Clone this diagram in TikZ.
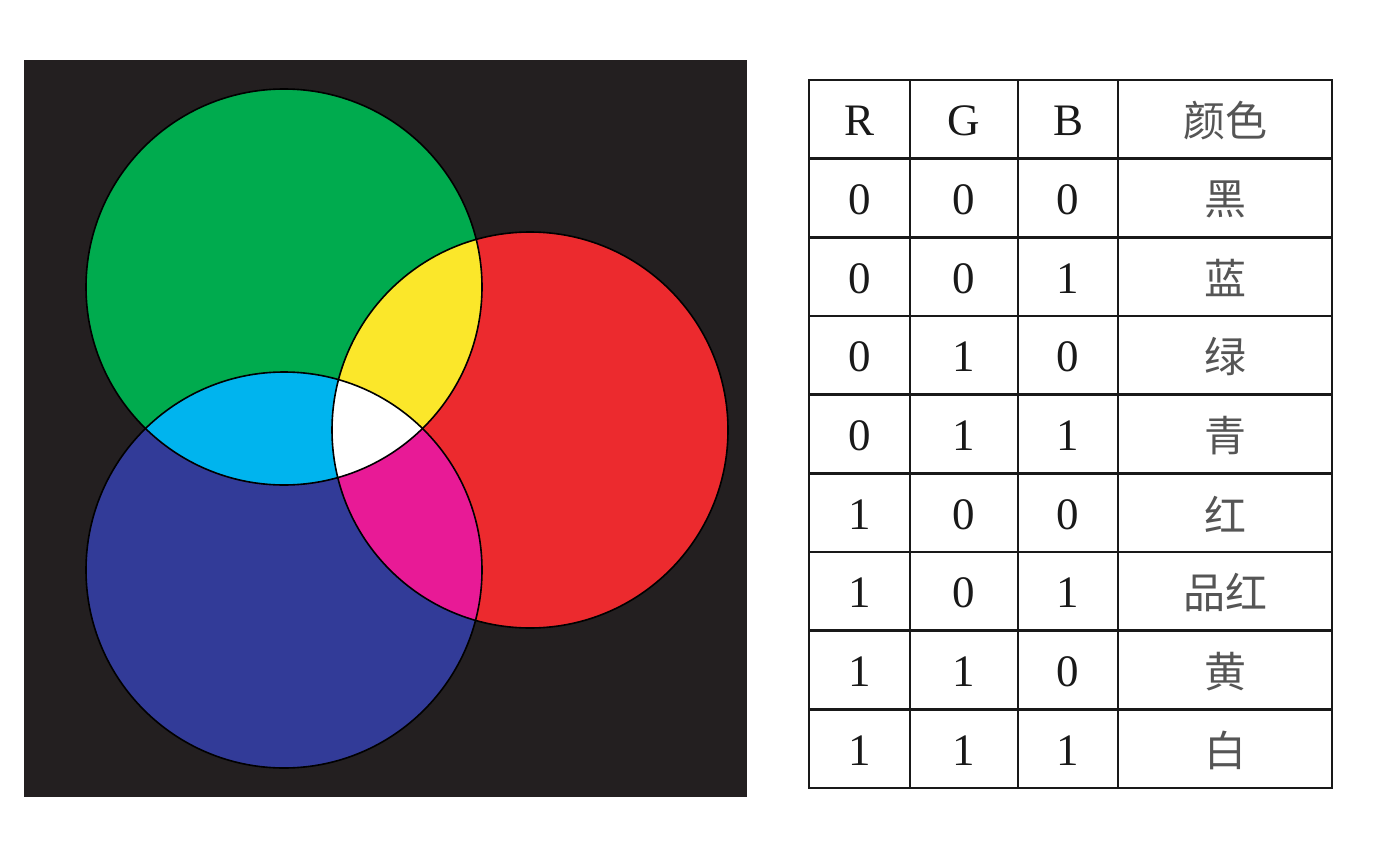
\documentclass[tikz,border=0pt]{standalone}
\usepackage{fontspec}
\setmainfont{Liberation Serif}
\newfontfamily\cjk{Noto Sans CJK SC}
\definecolor{bgblack}{HTML}{231F20}
\definecolor{cgreen}{HTML}{00AB4E}
\definecolor{cred}{HTML}{EC2A2E}
\definecolor{cblue}{HTML}{323B98}
\definecolor{cyellow}{HTML}{FBE72A}
\definecolor{ccyan}{HTML}{00B4EE}
\definecolor{cmag}{HTML}{E81A96}
\definecolor{cjkgray}{HTML}{555555}
\tikzset{
  cell/.style={font=\fontsize{45}{45}\selectfont, text=black!90, inner sep=0pt, anchor=center},
  hcell/.style={cell},
  ccell/.style={font=\fontsize{42}{42}\selectfont\cjk, text=cjkgray, inner sep=0pt, anchor=center},
  grid/.style={line width=2.8pt, draw=black!90, line cap=rect},
  rim/.style={draw=black, line width=1.6pt}
}
\begin{document}
\begin{tikzpicture}[x=1pt,y=-1pt]
\useasboundingbox (0,0) rectangle (1384,864);
\fill[white] (0,0) rectangle (1384,864);
% black panel
\fill[bgblack] (24,60) rectangle (747,797);
\coordinate (G) at (284,287);
\coordinate (B) at (284,570);
\coordinate (R) at (530,430);
% base circles
\fill[cgreen] (G) circle[radius=198pt];
\fill[cblue] (B) circle[radius=198pt];
\fill[cred] (R) circle[radius=198pt];
% overlaps
\begin{scope}
  \clip (G) circle[radius=198pt];
  \fill[cyellow] (R) circle[radius=198pt];
  \fill[ccyan] (B) circle[radius=198pt];
\end{scope}
\begin{scope}
  \clip (B) circle[radius=198pt];
  \fill[cmag] (R) circle[radius=198pt];
\end{scope}
\begin{scope}
  \clip (G) circle[radius=198pt];
  \clip (B) circle[radius=198pt];
  \fill[white] (R) circle[radius=198pt];
\end{scope}
\draw[rim] (G) circle[radius=198pt];
\draw[rim] (B) circle[radius=198pt];
\draw[rim] (R) circle[radius=198pt];
% table grid
\foreach \yy in {80,158.67,237.33,316,394.67,473.33,552,630.67,709.33,788}
  \draw[grid] (809,\yy) -- (1332,\yy);
\foreach \xx in {809,910,1018,1118,1332}
  \draw[grid] (\xx,80) -- (\xx,788);
% header
\node[hcell] (hR) at (859.5,121) {R};
\node[hcell] (hG) at (964,121) {G};
\node[hcell] (hB) at (1068,121) {B};
\node[ccell] (hC) at (1225,121) {颜色};
% rows
\foreach \r/\g/\b/\c [count=\i] in {0/0/0/黑,0/0/1/蓝,0/1/0/绿,0/1/1/青,1/0/0/红,1/0/1/品红,1/1/0/黄,1/1/1/白}{
  \pgfmathsetmacro{\yc}{80+78.67*\i+41}
  \node[cell] (r\i) at (859.5,\yc) {\r};
  \node[cell] (g\i) at (964,\yc) {\g};
  \node[cell] (b\i) at (1068,\yc) {\b};
  \node[ccell] (c\i) at (1225,\yc) {\c};
}
\end{tikzpicture}
\end{document}
